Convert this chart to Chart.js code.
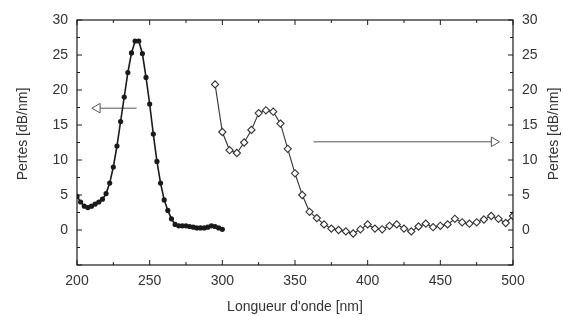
<!DOCTYPE html>
<html>
<head>
<meta charset="utf-8">
<script src="https://cdn.jsdelivr.net/npm/chart.js@4.4.1/dist/chart.umd.min.js"></script>
<style>
  html, body { margin: 0; padding: 0; background: #fff; }
  #wrap { width: 563px; height: 316px; }
</style>
</head>
<body>
<div id="wrap"><canvas id="chart"></canvas></div>
<script>
// Pertes mesurees, deux plages de longueur d'onde.

const shortWl = [200, 202.5, 205, 207.5, 210, 212.5, 215, 217.5, 220, 222.5, 225, 227.5, 230, 232.5, 235, 237.5,
  240, 242.5, 245, 247.5, 250, 252.5, 255, 257.5, 260, 262.5, 265, 267.5, 270, 272.5, 275, 277.5,
  280, 282.5, 285, 287.5, 290, 292.5, 295, 297.5, 300];
const shortLoss = [4.8, 4.0, 3.4, 3.2, 3.4, 3.7, 4.0, 4.4, 5.2, 6.7, 9.0, 12.0, 15.5, 19.0, 22.5, 25.3,
  27.0, 27.0, 25.2, 21.8, 18.0, 13.7, 9.8, 6.7, 4.3, 2.8, 1.6, 0.8, 0.6, 0.6, 0.6, 0.5,
  0.4, 0.3, 0.3, 0.3, 0.4, 0.6, 0.5, 0.3, 0.1];

const longWl = [295, 300, 305, 310, 315, 320, 325, 330, 335, 340, 345, 350, 355, 360, 365, 370, 375, 380,
  385, 390, 395, 400, 405, 410, 415, 420, 425, 430, 435, 440, 445, 450, 455, 460, 465, 470, 475, 480,
  485, 490, 495, 500];
const longLoss = [20.8, 14.0, 11.4, 11.0, 12.5, 14.3, 16.7, 17.1, 16.9, 15.2, 11.6, 8.1, 5.0, 2.6, 1.7, 0.8, 0.2, 0.0,
  -0.2, -0.5, 0.1, 0.8, 0.2, 0.1, 0.6, 0.8, 0.2, -0.2, 0.5, 0.9, 0.4, 0.6, 0.8, 1.6, 1.1, 0.9, 1.1, 1.5,
  2.0, 1.6, 1.0, 2.0];

// arrows pointing to the axis each curve belongs to
const leftArrowWl = [241, 214];
const leftArrowLoss = [17.4, 17.4];
const rightArrowWl = [362.7, 487];
const rightArrowLoss = [12.6, 12.6];

const xLabels = [200, 250, 300, 350, 400, 450, 500];
const yLabels = [0, 5, 10, 15, 20, 25, 30];

const ink = "#1a1a1a";
const tickFont = { family: "'Liberation Sans', Arial, sans-serif", size: 14 };

const toPoints = (xs, ys) => xs.map((x, i) => ({ x: x, y: ys[i] }));

// frame, inward tick marks and the two vertical titles
const framePlugin = {
  id: "frame",
  afterDatasetsDraw(chart) {
    const { ctx, chartArea: a, scales } = chart;
    ctx.save();
    ctx.strokeStyle = ink;
    ctx.lineWidth = 1.2;
    ctx.strokeRect(a.left, a.top, a.right - a.left, a.bottom - a.top);
    ctx.lineWidth = 1;
    scales.x.ticks.forEach((t) => {
      const px = scales.x.getPixelForValue(t.value);
      const len = t.value % 50 === 0 ? 5 : 3;
      ctx.beginPath();
      ctx.moveTo(px, a.bottom); ctx.lineTo(px, a.bottom - len);
      ctx.moveTo(px, a.top); ctx.lineTo(px, a.top + len);
      ctx.stroke();
    });
    scales.y.ticks.forEach((t) => {
      const py = scales.y.getPixelForValue(t.value);
      const len = t.value % 5 === 0 ? 5 : 3;
      ctx.beginPath();
      ctx.moveTo(a.left, py); ctx.lineTo(a.left + len, py);
      ctx.moveTo(a.right, py); ctx.lineTo(a.right - len, py);
      ctx.stroke();
    });
    ctx.fillStyle = "#333";
    ctx.font = "14px 'Liberation Sans', Arial, sans-serif";
    ctx.textAlign = "center";
    ctx.textBaseline = "middle";
    [23, 554].forEach((tx) => {
      ctx.save();
      ctx.translate(tx, 134);
      ctx.rotate(-Math.PI / 2);
      ctx.fillText("Pertes [dB/nm]", 0, 0);
      ctx.restore();
    });
    ctx.restore();
  }
};

new Chart(document.getElementById("chart"), {
  type: "line",
  data: {
    datasets: [
      {
        label: "court",
        data: toPoints(shortWl, shortLoss),
        borderColor: ink,
        backgroundColor: ink,
        borderWidth: 1.6,
        pointRadius: 1.8,
        pointStyle: "circle",
        tension: 0
      },
      {
        label: "long",
        data: toPoints(longWl, longLoss),
        borderColor: "#333",
        backgroundColor: "#fff",
        borderWidth: 1.1,
        pointRadius: 3.6,
        pointBorderWidth: 1.1,
        pointStyle: "rectRot",
        tension: 0,
        yAxisID: "y2"
      },
      {
        label: "fleche gauche",
        data: toPoints(leftArrowWl, leftArrowLoss),
        borderColor: "#555",
        backgroundColor: "#fff",
        borderWidth: 1,
        pointRadius: [0, 5.5],
        pointStyle: "triangle",
        pointRotation: 270,
        pointBorderWidth: 1
      },
      {
        label: "fleche droite",
        data: toPoints(rightArrowWl, rightArrowLoss),
        borderColor: "#555",
        backgroundColor: "#fff",
        borderWidth: 1,
        pointRadius: [0, 5.5],
        pointStyle: "triangle",
        pointRotation: 90,
        pointBorderWidth: 1,
        yAxisID: "y2"
      }
    ]
  },
  options: {
    responsive: true,
    maintainAspectRatio: false,
    animation: false,
    layout: { padding: { top: 20, left: 0, right: 0, bottom: 0 } },
    plugins: { legend: { display: false }, tooltip: { enabled: false } },
    elements: { line: { fill: false } },
    scales: {
      x: {
        type: "linear",
        min: 200,
        max: 500,
        border: { display: false },
        grid: { display: false, drawTicks: false },
        ticks: {
          stepSize: 25,
          padding: 8,
          color: "#333",
          font: tickFont,
          maxRotation: 0,
          autoSkip: false,
          callback: (v) => (xLabels.includes(v) ? String(v) : "")
        },
        title: {
          display: true,
          text: "Longueur d'onde [nm]",
          color: "#333",
          font: tickFont,
          padding: { top: 4, bottom: 0 }
        },
        afterFit: (s) => { s.height = 51; }
      },
      y: {
        min: -5,
        max: 30,
        border: { display: false },
        grid: { display: false, drawTicks: false },
        ticks: {
          stepSize: 2.5,
          padding: 9,
          color: "#333",
          font: tickFont,
          autoSkip: false,
          callback: (v) => (yLabels.includes(v) ? String(v) : "")
        },
        afterFit: (s) => { s.width = 77; }
      },
      y2: {
        position: "right",
        min: -5,
        max: 30,
        border: { display: false },
        grid: { display: false, drawTicks: false },
        ticks: {
          stepSize: 2.5,
          padding: 9,
          color: "#333",
          font: tickFont,
          autoSkip: false,
          callback: (v) => (yLabels.includes(v) ? String(v) : "")
        },
        afterFit: (s) => { s.width = 50; }
      }
    }
  },
  plugins: [framePlugin]
});
</script>
</body>
</html>
